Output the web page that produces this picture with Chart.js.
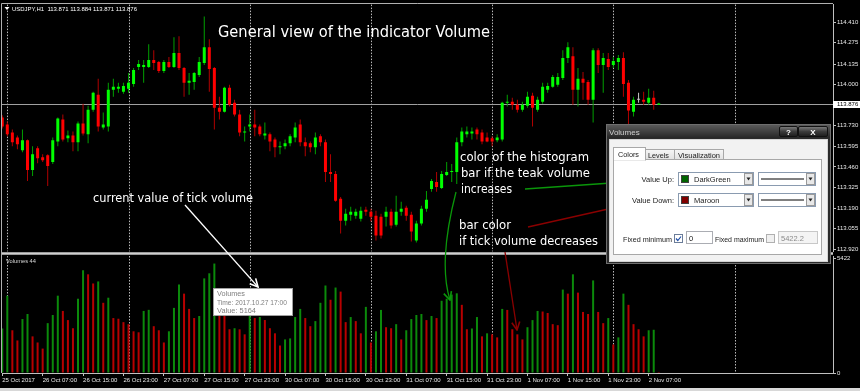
<!DOCTYPE html>
<html><head><meta charset="utf-8">
<script src="https://cdn.jsdelivr.net/npm/chart.js@4.4.1/dist/chart.umd.min.js"></script>
<style>
html,body{margin:0;padding:0;background:#000;width:860px;height:391px;overflow:hidden}
#wrap{position:relative;width:860px;height:391px}
canvas,svg{position:absolute;left:0;top:0}
</style></head><body>
<div id="wrap">
<canvas id="cv" width="860" height="391"></canvas>
<canvas id="cp" width="860" height="256"></canvas>
<svg id="ov" width="860" height="391" xmlns="http://www.w3.org/2000/svg">
<defs>
 <marker id="mw" markerUnits="userSpaceOnUse" markerWidth="10" markerHeight="10" refX="9" refY="5" orient="auto" viewBox="0 0 10 10"><path d="M1,1 L9,5 L1,9" fill="none" stroke="#ffffff" stroke-width="1.6"/></marker>
 <marker id="mg" markerUnits="userSpaceOnUse" markerWidth="10" markerHeight="10" refX="9" refY="5" orient="auto" viewBox="0 0 10 10"><path d="M1,1 L9,5 L1,9" fill="none" stroke="#0a960a" stroke-width="1.6"/></marker>
 <marker id="mr" markerUnits="userSpaceOnUse" markerWidth="10" markerHeight="10" refX="9" refY="5" orient="auto" viewBox="0 0 10 10"><path d="M1,1 L9,5 L1,9" fill="none" stroke="#8b0000" stroke-width="1.6"/></marker>
 <linearGradient id="tb" x1="0" y1="0" x2="0" y2="1"><stop offset="0" stop-color="#5a5a5a"/><stop offset="1" stop-color="#262626"/></linearGradient>
 <linearGradient id="bt" x1="0" y1="0" x2="0" y2="1"><stop offset="0" stop-color="#808080"/><stop offset="0.5" stop-color="#3c3c3c"/><stop offset="1" stop-color="#1c1c1c"/></linearGradient>
 <linearGradient id="tabg" x1="0" y1="0" x2="0" y2="1"><stop offset="0" stop-color="#f6f6f6"/><stop offset="1" stop-color="#e2e2e2"/></linearGradient>
</defs>
<!-- header -->
<polygon points="4.5,7 9.5,7 7,10" fill="#ffffff"/>
<text x="12" y="11" font-family="Liberation Sans, Arial, sans-serif" font-size="6" fill="#ffffff" textLength="125" lengthAdjust="spacingAndGlyphs" style="white-space:pre">USDJPY,H1  113.871 113.884 113.871 113.876</text>
<text x="6" y="262.5" font-family="Liberation Sans, Arial, sans-serif" font-size="6" fill="#d8d8d8" textLength="30" lengthAdjust="spacingAndGlyphs">Volumes 44</text>
<!-- title and notes -->
<g font-family="DejaVu Sans, sans-serif" fill="#ffffff">
 <text x="218" y="37" font-size="15" textLength="272" lengthAdjust="spacingAndGlyphs">General view of the indicator Volume</text>
 <text x="93" y="201.5" font-size="12" textLength="160" lengthAdjust="spacingAndGlyphs">current value of tick volume</text>
 <text x="460" y="160.5" font-size="12" textLength="129" lengthAdjust="spacingAndGlyphs">color of the histogram</text>
 <text x="461" y="176.5" font-size="12" textLength="129" lengthAdjust="spacingAndGlyphs">bar if the teak volume</text>
 <text x="461" y="192.5" font-size="12" textLength="51" lengthAdjust="spacingAndGlyphs">increases</text>
 <text x="459" y="229" font-size="12" textLength="52" lengthAdjust="spacingAndGlyphs">bar color</text>
 <text x="459" y="245" font-size="12" textLength="139" lengthAdjust="spacingAndGlyphs">if tick volume decreases</text>
</g>
<!-- arrows -->
<line x1="185" y1="205" x2="258" y2="287" stroke="#ffffff" stroke-width="1.3" marker-end="url(#mw)"/>
<line x1="525" y1="189" x2="640" y2="181" stroke="#0a960a" stroke-width="1.3" marker-end="url(#mg)"/>
<line x1="528" y1="227" x2="635" y2="203" stroke="#8b0000" stroke-width="1.3" marker-end="url(#mr)"/>
<path d="M456,192 Q438,262 450,300" fill="none" stroke="#0a960a" stroke-width="1.3" marker-end="url(#mg)"/>
<line x1="505" y1="252" x2="517" y2="330" stroke="#8b0000" stroke-width="1.3" marker-end="url(#mr)"/>
<!-- tooltip -->
<g font-family="Liberation Sans, Arial, sans-serif" font-size="6.5" fill="#808080">
 <rect x="213.5" y="288.5" width="79" height="27" fill="#ffffff" stroke="#a0a0a0"/>
 <text x="217" y="296" textLength="28" lengthAdjust="spacingAndGlyphs">Volumes</text>
 <text x="217" y="304.5" textLength="70" lengthAdjust="spacingAndGlyphs">Time: 2017.10.27 17:00</text>
 <text x="217" y="312.5" textLength="39" lengthAdjust="spacingAndGlyphs">Value: 5164</text>
</g>
<!-- dialog -->
<g font-family="Liberation Sans, Arial, sans-serif">
 <rect x="606.5" y="124.5" width="224" height="139" fill="#2a2a2a" stroke="#6e6e6e"/>
 <rect x="607" y="125" width="223" height="13" fill="url(#tb)"/>
 <text x="609" y="135" font-size="8" fill="#cfcfcf">Volumes</text>
 <rect x="779.5" y="126.5" width="18" height="10" rx="1.5" fill="url(#bt)" stroke="#111"/>
 <text x="788.5" y="134.5" font-size="8" font-weight="bold" fill="#ffffff" text-anchor="middle">?</text>
 <rect x="798.5" y="126.5" width="29" height="10" rx="1.5" fill="url(#bt)" stroke="#111"/>
 <text x="813" y="134.5" font-size="8" font-weight="bold" fill="#ffffff" text-anchor="middle">X</text>
 <rect x="609.5" y="139.5" width="218" height="122" fill="#f2f2f2" stroke="#d4d4d4"/>
 <rect x="613.5" y="159.5" width="208" height="95" fill="#ffffff" stroke="#a8a8a8"/>
 <rect x="645.5" y="149.5" width="29" height="10" fill="url(#tabg)" stroke="#a8a8a8"/>
 <text x="648" y="157.5" font-size="7" fill="#222" textLength="21" lengthAdjust="spacingAndGlyphs">Levels</text>
 <rect x="674.5" y="149.5" width="49" height="10" fill="url(#tabg)" stroke="#a8a8a8"/>
 <text x="678" y="157.5" font-size="7" fill="#222" textLength="42" lengthAdjust="spacingAndGlyphs">Visualization</text>
 <rect x="613.5" y="147.5" width="32" height="12.5" fill="#ffffff" stroke="#a8a8a8"/>
 <rect x="614" y="158.5" width="31" height="2" fill="#ffffff"/>
 <text x="618" y="156.5" font-size="7" fill="#222" textLength="21" lengthAdjust="spacingAndGlyphs">Colors</text>
 <g font-size="7.5" fill="#222">
  <text x="674" y="182" text-anchor="end">Value Up:</text>
  <rect x="678.5" y="172.5" width="75" height="13" fill="#ffffff" stroke="#8a9bb0"/>
  <rect x="681.5" y="175.5" width="7" height="7" fill="#006400" stroke="#404040"/>
  <text x="694" y="182">DarkGreen</text>
  <rect x="744.5" y="173.5" width="8" height="11" fill="#e8e8e8" stroke="#9a9a9a"/>
  <path d="M746.5,177.5 h4 l-2,3 z" fill="#222"/>
  <rect x="758.5" y="172.5" width="57" height="13" fill="#ffffff" stroke="#8a9bb0"/>
  <line x1="761" y1="179" x2="804" y2="179" stroke="#000" stroke-width="1"/>
  <rect x="806.5" y="173.5" width="8" height="11" fill="#e8e8e8" stroke="#9a9a9a"/>
  <path d="M808.5,177.5 h4 l-2,3 z" fill="#222"/>

  <text x="674" y="203" text-anchor="end">Value Down:</text>
  <rect x="678.5" y="193.5" width="75" height="13" fill="#ffffff" stroke="#8a9bb0"/>
  <rect x="681.5" y="196.5" width="7" height="7" fill="#800000" stroke="#404040"/>
  <text x="694" y="203">Maroon</text>
  <rect x="744.5" y="194.5" width="8" height="11" fill="#e8e8e8" stroke="#9a9a9a"/>
  <path d="M746.5,198.5 h4 l-2,3 z" fill="#222"/>
  <rect x="758.5" y="193.5" width="57" height="13" fill="#ffffff" stroke="#8a9bb0"/>
  <line x1="761" y1="200" x2="804" y2="200" stroke="#000" stroke-width="1"/>
  <rect x="806.5" y="194.5" width="8" height="11" fill="#e8e8e8" stroke="#9a9a9a"/>
  <path d="M808.5,198.5 h4 l-2,3 z" fill="#222"/>

  <text x="623" y="242" textLength="49" lengthAdjust="spacingAndGlyphs">Fixed minimum</text>
  <rect x="674.5" y="234.5" width="8" height="8" fill="#ffffff" stroke="#6b7d99"/>
  <path d="M676,238.5 l1.8,2 l3.2,-4" fill="none" stroke="#1f4fa8" stroke-width="1.2"/>
  <rect x="686.5" y="231.5" width="26" height="12" fill="#ffffff" stroke="#abadb3"/>
  <text x="689" y="240.5" fill="#111">0</text>
  <text x="715" y="242" textLength="49" lengthAdjust="spacingAndGlyphs">Fixed maximum</text>
  <rect x="766.5" y="234.5" width="8" height="8" fill="#f0f0f0" stroke="#b0b0b0"/>
  <rect x="778.5" y="231.5" width="39" height="12" fill="#f4f4f4" stroke="#c8c8c8"/>
  <text x="781" y="240.5" fill="#8a8a8a">5422.2</text>
 </g>
</g>
<rect x="0" y="388" width="860" height="3" fill="#d8d8d8"/>
</svg>
</div>
<script>
// ---- data (bar index 0 = 25 Oct 2017 23:00, H1 bars) ----
const firstBar = -1;
const opens = [113.784,113.739,113.687,113.654,113.570,113.635,113.440,113.583,113.524,113.537,113.492,113.628,113.771,113.648,113.667,113.622,113.745,113.674,113.836,113.934,113.719,113.726,113.966,113.973,113.953,113.973,114.005,114.116,114.116,114.116,114.161,114.148,114.090,114.148,114.116,114.207,114.109,114.012,114.018,114.064,114.142,114.246,114.109,113.849,113.823,113.979,113.882,113.804,113.687,113.726,113.739,113.726,113.667,113.674,113.641,113.589,113.596,113.615,113.654,113.739,113.622,113.615,113.589,113.661,113.622,113.427,113.414,113.251,113.108,113.147,113.141,113.121,113.180,113.167,113.141,113.134,113.134,113.167,113.082,113.167,113.193,113.147,112.978,113.089,113.186,113.316,113.362,113.323,113.407,113.427,113.427,113.622,113.674,113.680,113.706,113.687,113.654,113.648,113.635,113.641,113.882,113.888,113.869,113.836,113.862,113.927,113.836,113.888,113.966,113.986,113.999,114.044,114.174,114.187,113.966,114.038,114.018,113.901,114.226,114.129,114.168,114.129,114.148,114.174,114.012,113.823,113.901,113.901,113.882,113.914,113.869];
const highs = [113.800,113.758,113.706,113.667,113.706,113.641,113.596,113.596,113.544,113.544,113.654,113.784,113.804,113.700,113.693,113.758,113.875,113.862,113.953,114.038,113.817,114.012,114.038,114.012,114.012,114.077,114.109,114.161,114.161,114.265,114.226,114.155,114.161,114.181,114.311,114.317,114.115,114.077,114.083,114.181,114.447,114.298,114.115,113.921,113.986,113.999,113.901,113.836,113.726,113.804,113.836,113.739,113.752,113.687,113.654,113.628,113.641,113.674,113.752,113.771,113.654,113.628,113.687,113.674,113.641,113.544,113.433,113.264,113.186,113.199,113.186,113.199,113.199,113.186,113.173,113.154,113.199,113.186,113.271,113.232,113.206,113.167,113.108,113.206,113.303,113.381,113.427,113.433,113.492,113.479,113.654,113.719,113.726,113.719,113.719,113.706,113.687,113.661,113.674,113.888,113.934,113.914,113.901,113.888,113.953,113.947,113.921,114.012,114.012,114.064,114.077,114.226,114.278,114.246,114.109,114.083,114.031,114.239,114.239,114.207,114.207,114.181,114.194,114.213,114.031,113.921,113.947,113.953,113.973,113.960,113.882];
const lows = [113.713,113.661,113.596,113.576,113.557,113.368,113.401,113.485,113.492,113.336,113.479,113.596,113.628,113.622,113.563,113.563,113.667,113.615,113.823,113.693,113.706,113.693,113.921,113.947,113.940,113.947,113.986,114.096,114.012,114.109,114.096,114.077,114.077,114.109,114.109,114.096,113.921,113.934,113.966,114.051,114.129,113.953,113.706,113.771,113.817,113.856,113.791,113.661,113.628,113.693,113.661,113.661,113.641,113.563,113.524,113.544,113.576,113.596,113.622,113.596,113.531,113.557,113.544,113.596,113.362,113.362,113.232,113.024,113.076,113.108,113.121,113.102,113.141,113.102,112.978,112.991,113.069,113.056,113.069,113.141,113.108,112.972,112.965,113.076,113.167,113.297,113.297,113.316,113.401,113.362,113.349,113.596,113.654,113.641,113.641,113.609,113.622,113.596,113.622,113.628,113.856,113.836,113.817,113.823,113.849,113.726,113.823,113.875,113.947,113.979,113.986,114.031,114.142,113.869,113.856,113.901,113.869,113.752,114.077,113.947,114.096,114.109,114.096,113.921,113.739,113.791,113.882,113.869,113.869,113.836,113.869];
const closes = [113.726,113.674,113.622,113.609,113.635,113.440,113.544,113.518,113.505,113.466,113.635,113.778,113.641,113.667,113.622,113.745,113.680,113.836,113.947,113.726,113.739,113.966,113.986,113.986,113.992,114.012,114.096,114.135,114.129,114.161,114.142,114.090,114.148,114.116,114.207,114.109,114.012,114.025,114.077,114.148,114.246,114.103,113.849,113.823,113.979,113.869,113.804,113.687,113.693,113.739,113.719,113.674,113.680,113.628,113.589,113.596,113.615,113.661,113.719,113.622,113.596,113.589,113.654,113.622,113.427,113.414,113.238,113.108,113.154,113.167,113.167,113.173,113.167,113.134,113.011,113.011,113.167,113.076,113.167,113.186,113.141,113.037,113.089,113.186,113.245,113.368,113.329,113.414,113.427,113.433,113.622,113.693,113.693,113.693,113.674,113.628,113.628,113.628,113.654,113.882,113.888,113.869,113.836,113.869,113.921,113.849,113.901,113.986,113.992,114.051,114.051,114.174,114.246,113.966,114.038,114.012,113.901,114.226,114.129,114.174,114.116,114.155,114.174,114.005,113.830,113.901,113.901,113.888,113.914,113.869,113.876];
const volumes = [2100,3648,2016,1536,2544,2784,1728,1440,1152,2352,2736,3648,2928,2496,2112,3504,4848,4656,4224,4320,3312,3552,2592,2560,2400,2304,1968,1920,2928,2980,2208,2016,1440,1968,3072,4176,3744,3024,2592,2688,4464,4704,5164,3408,3168,2064,2112,2060,1824,3168,2592,2640,2500,2112,1872,1296,1584,1632,2640,3024,2592,2208,2448,3312,4128,3456,4032,3840,2400,2640,2448,1872,3120,1440,1968,2976,2160,2112,2304,1584,2016,2544,2736,2784,2496,2688,2592,3408,3504,3700,3760,3216,2064,2100,2640,1728,1872,1824,1680,3024,2976,2064,1824,1584,2160,2496,2928,2900,2832,2304,2256,3936,3744,4656,3792,2880,2784,4368,2880,2352,2592,1344,1680,3744,3216,2304,2064,1728,2016,2040,44];
const priceTicks = [114.410,114.275,114.135,114.000,113.730,113.595,113.460,113.325,113.190,113.055,112.920];
const lastPrice = 113.876;
const volumeTicks = [0, 5422];
const timeTickIndex = [-1,7,15,23,31,39,47,55,63,71,79,87,95,103,111,119,127];
const timeTickLabels = ['25 Oct 2017','26 Oct 07:00','26 Oct 15:00','26 Oct 23:00','27 Oct 07:00','27 Oct 15:00','27 Oct 23:00','30 Oct 07:00','30 Oct 15:00','30 Oct 23:00','31 Oct 07:00','31 Oct 15:00','31 Oct 23:00','1 Nov 07:00','1 Nov 15:00','1 Nov 23:00','2 Nov 07:00'];
const dayGridIndex = [0,24,48,72,96,120,144];

// ---- styles ----
const FONT = 'Liberation Sans';
Chart.defaults.font.family = FONT;
const bullBody = '#00ff00', bearBody = '#ff0000', doji = '#c8c8c8';
const bullWick = '#00a000', bearWick = '#b00000';
const volUp = '#0b8a0b', volDown = '#b80000';
const X_MIN = -1.05, X_MAX = 163.5;

const idx = opens.map((_, k) => k + firstBar);
const bodyColors = opens.map((o, k) => closes[k] > o ? bullBody : closes[k] < o ? bearBody : doji);
const wickColors = opens.map((o, k) => closes[k] > o ? bullWick : closes[k] < o ? bearWick : doji);
const volColors = volumes.map((v, k) => (k === 0 || v > volumes[k - 1]) ? volUp : volDown);

function dayLines(chart, top, bottom) {
  const {ctx, scales: {x}, chartArea} = chart;
  ctx.save();
  ctx.strokeStyle = '#b8b8b8';
  ctx.lineWidth = 1;
  ctx.setLineDash([1.5, 1.5]);
  dayGridIndex.forEach(i => {
    const px = Math.round(x.getPixelForValue(i)) + 0.5;
    if (px < chartArea.left || px > chartArea.right) return;
    ctx.beginPath(); ctx.moveTo(px, top); ctx.lineTo(px, bottom); ctx.stroke();
  });
  ctx.restore();
}

const axisTicks = {color: '#e8e8e8', font: {family: FONT, size: 6}, padding: 1, autoSkip: false};
const axisGrid = {drawOnChartArea: false, drawTicks: true, tickLength: 3, color: '#c0c0c0', offset: false};

// ---- price pane ----
new Chart(document.getElementById('cp'), {
  type: 'bar',
  data: {datasets: [
    {label: 'body', data: idx.map((x, k) => ({x, y: [opens[k], closes[k]]})), backgroundColor: bodyColors,
     barThickness: 3, minBarLength: 1, inflateAmount: 0, grouped: false, order: 0},
    {label: 'wick', data: idx.map((x, k) => ({x, y: [lows[k], highs[k]]})), backgroundColor: wickColors,
     barThickness: 1, inflateAmount: 0, grouped: false, order: 1}
  ]},
  options: {
    responsive: false, animation: false, events: [],
    layout: {padding: {left: 2, top: 4, right: 0, bottom: 3}},
    plugins: {legend: {display: false}, tooltip: {enabled: false}},
    scales: {
      x: {type: 'linear', min: X_MIN, max: X_MAX, offset: false, display: false, grid: {offset: false}},
      y: {position: 'right', min: 112.9065, max: 114.525,
          afterBuildTicks: s => { s.ticks = priceTicks.map(v => ({value: v})); },
          afterFit: s => { s.width = 27; },
          ticks: Object.assign({}, axisTicks, {callback: v => Number(v).toFixed(3)}),
          grid: axisGrid, border: {display: true, color: '#c0c0c0'}}
    }
  },
  plugins: [{
    id: 'pricePane',
    beforeDatasetsDraw(chart) {
      const {ctx, chartArea: a, scales: {y}} = chart;
      dayLines(chart, a.top, a.bottom);
      const py = Math.round(y.getPixelForValue(lastPrice)) + 0.5;
      ctx.save();
      ctx.strokeStyle = '#a0a0a0'; ctx.lineWidth = 1;
      ctx.beginPath(); ctx.moveTo(a.left, py); ctx.lineTo(a.right, py); ctx.stroke();
      ctx.restore();
    },
    afterDraw(chart) {
      const {ctx, chartArea: a, scales: {y}} = chart;
      const py = y.getPixelForValue(lastPrice);
      ctx.save();
      ctx.fillStyle = '#ffffff';
      ctx.fillRect(a.right, Math.round(py) - 3, 27, 7);
      ctx.fillStyle = '#000000';
      ctx.font = '6px ' + FONT; ctx.textBaseline = 'middle'; ctx.textAlign = 'left';
      ctx.fillText(lastPrice.toFixed(3), a.right + 4, py + 0.5);
      ctx.strokeStyle = '#b0b0b0'; ctx.lineWidth = 1;
      ctx.beginPath(); ctx.moveTo(a.left - 0.5, 3.5); ctx.lineTo(a.right, 3.5); ctx.stroke();
      ctx.fillStyle = '#9a9a9a'; ctx.fillRect(a.left, 252, a.right - a.left, 3);
      ctx.fillStyle = '#cfcfcf'; ctx.fillRect(a.left, 253, a.right - a.left, 1);
      ctx.restore();
    }
  }]
});

// ---- volume pane ----
new Chart(document.getElementById('cv'), {
  type: 'bar',
  data: {datasets: [
    {label: 'Volumes', data: idx.map((x, k) => ({x, y: volumes[k]})), backgroundColor: volColors,
     barThickness: 2, inflateAmount: 0, grouped: false}
  ]},
  options: {
    responsive: false, animation: false, events: [],
    layout: {padding: {left: 2, top: 256, right: 0, bottom: 0}},
    plugins: {legend: {display: false}, tooltip: {enabled: false}},
    scales: {
      x: {type: 'linear', min: X_MIN, max: X_MAX, offset: false, position: 'bottom',
          afterBuildTicks: s => { s.ticks = timeTickIndex.map(v => ({value: v})); },
          afterFit: s => { s.height = 18; },
          ticks: Object.assign({}, axisTicks, {align: 'start', maxRotation: 0, minRotation: 0,
                  callback: (v, i) => timeTickLabels[i]}),
          grid: axisGrid, border: {display: true, color: '#c0c0c0'}},
      y: {position: 'right', min: 0, max: 5520,
          afterBuildTicks: s => { s.ticks = volumeTicks.map(v => ({value: v})); },
          afterFit: s => { s.width = 27; },
          ticks: Object.assign({}, axisTicks, {callback: v => String(v)}),
          grid: axisGrid, border: {display: true, color: '#c0c0c0'}}
    }
  },
  plugins: [{
    id: 'volPane',
    beforeDatasetsDraw(chart) {
      const a = chart.chartArea;
      dayLines(chart, a.top, a.bottom);
    },
    afterDraw(chart) {
      const {ctx, chartArea: a} = chart;
      ctx.save();
      ctx.strokeStyle = '#b0b0b0'; ctx.lineWidth = 1;
      ctx.beginPath(); ctx.moveTo(1.5, 3.5); ctx.lineTo(1.5, a.bottom); ctx.stroke();
      ctx.restore();
    }
  }]
});
</script>
</body></html>
